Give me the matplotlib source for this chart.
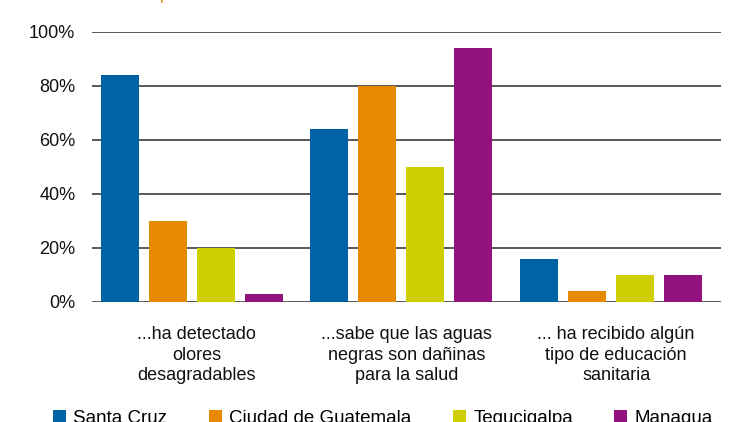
import numpy as np
import matplotlib
matplotlib.use('Agg')
import matplotlib.pyplot as plt
from matplotlib.ticker import FuncFormatter

plt.rcParams['font.family'] = ['Liberation Sans', 'DejaVu Sans']

# data
categories = ['...ha detectado\nolores\ndesagradables',
              '...sabe que las aguas\nnegras son dañinas\npara la salud',
              '... ha recibido algún\ntipo de educación\nsanitaria']
cities = ['Santa Cruz', 'Ciudad de Guatemala', 'Tegucigalpa', 'Managua']
santa_cruz = [84, 64, 16]
guatemala = [30, 80, 4]
tegucigalpa = [20, 50, 10]
managua = [3, 94, 10]
colors = ['#0063a6', '#e88a00', '#cfce00', '#93127d']
yticks = [0, 20, 40, 60, 80, 100]

fig = plt.figure(figsize=(7.29, 4.22), dpi=100)
ax = fig.add_axes([92 / 729, 1 - 302 / 422, 629 / 729, 270 / 422])

series = [santa_cruz, guatemala, tegucigalpa, managua]
x = np.arange(len(categories))
width = 0.181
step = 0.229
for i, (vals, col, name) in enumerate(zip(series, colors, cities)):
    ax.bar(x + (i - 1.5) * step - 0.025, vals, width, color=col, label=name, zorder=3)

ax.set_xlim(-0.5, 2.5)
ax.set_ylim(0, 100)
ax.set_yticks(yticks)
ax.yaxis.set_major_formatter(FuncFormatter(lambda v, p: '%d%%' % v))
for t in yticks:
    ax.axhline(t, color='#2a2a2a', lw=1.1, zorder=2)
ax.tick_params(axis='y', length=0, pad=12, labelsize=13, colors='#111111')
ax.set_xticks(x)
ax.set_xticklabels(categories, fontsize=13, linespacing=1.3, color='#111111')
ax.tick_params(axis='x', length=0, pad=17)
for s in ax.spines.values():
    s.set_visible(False)

# cropped title fragment at the very top
fig.text(165 / 729, 1.0, 'p', color='#e88a00', fontsize=12, ha='center', va='baseline')

fig.legend(loc='upper center', bbox_to_anchor=(383 / 729, 1 - 393 / 422), ncol=4, frameon=False,
           fontsize=13.5, handlelength=0.7, handleheight=0.7, handletextpad=0.4,
           columnspacing=2.2)

fig.savefig('out.png', dpi=100)
